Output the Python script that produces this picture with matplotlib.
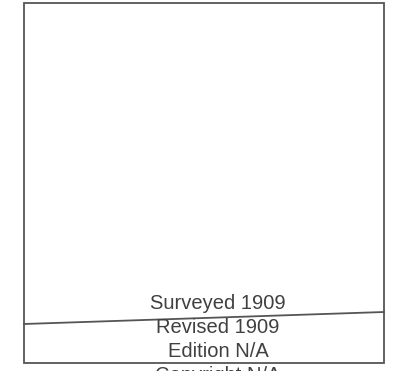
import matplotlib
matplotlib.use('Agg')
import matplotlib.pyplot as plt
from matplotlib.patches import Rectangle

# map sheet layout in pixel units
frame_x = [24, 384]
frame_y = [3, 363]
neatline_x = [24, 384]
neatline_y = [324, 312]
labels = ['Surveyed 1909', 'Revised 1909', 'Edition N/A', 'Copyright N/A']
label_y = [309, 333, 357, 381]
label_x = 218

fig = plt.figure(figsize=(3.98, 3.71), dpi=100)
ax = fig.add_axes([0, 0, 1, 1])
ax.set_xlim(0, 398)
ax.set_ylim(371, 0)
ax.axis('off')

ax.add_patch(Rectangle((frame_x[0], frame_y[0]), frame_x[1] - frame_x[0], frame_y[1] - frame_y[0],
                       fill=False, edgecolor='#555555', linewidth=1.3))
ax.plot(neatline_x, neatline_y, color='#555555', linewidth=1.3)

for txt, y in zip(labels, label_y):
    ax.text(label_x, y, txt, ha='center', va='baseline', fontsize=14.5,
            family='Liberation Sans', color='#404040')

fig.savefig('out.png', dpi=100)
